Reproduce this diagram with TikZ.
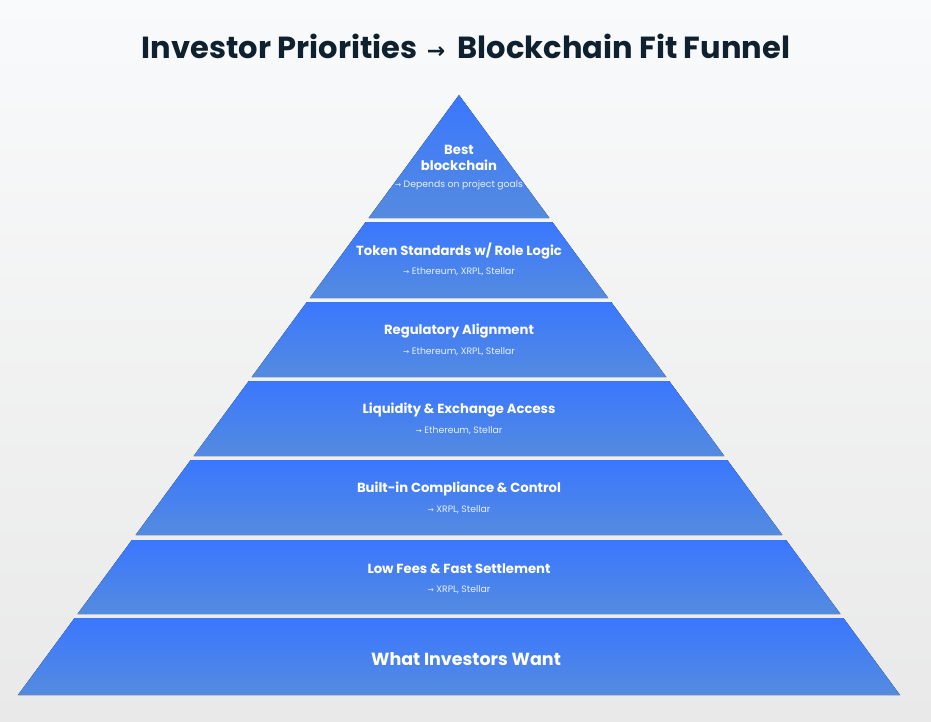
\documentclass[tikz,border=0pt]{standalone}
\usepackage{fontspec}
\setmainfont{Poppins}
\newfontfamily\arrowfont{DejaVu Sans}
\usetikzlibrary{positioning}
\definecolor{tierblue}{HTML}{3A77FF}
\definecolor{tierlow}{HTML}{548BDF}
\definecolor{titlenavy}{HTML}{0F212E}
\definecolor{bgtop}{HTML}{F9FAFB}
\definecolor{bgbottom}{HTML}{E9E9E9}
\tikzstyle{tier} = [top color=tierblue, bottom color=tierlow, draw=none]
\tikzstyle{head} = [text=white, font=\bfseries\fontsize{13.2}{16}\selectfont, align=center, inner sep=0pt]
\tikzstyle{chains} = [text=white!88!tierblue, font=\fontsize{9.3}{11}\selectfont, inner sep=0pt]
\newcommand{\arr}{{\arrowfont\fontsize{7.5}{8}\selectfont →}}

\begin{document}
\begin{tikzpicture}[x=1pt, y=-1pt]
  \useasboundingbox (0,0) rectangle (931,722);
  \shade[top color=bgtop, bottom color=bgbottom] (0,0) rectangle (931,722);

  \node[text=titlenavy, font=\bfseries\fontsize{30.5}{36}\selectfont] (title) at (466,46)
    {Investor Priorities\hspace{3pt} {\arrowfont\fontsize{22}{24}\selectfont →}\hspace{6pt} Blockchain Fit Funnel};

  % top of the pyramid
  \fill[tier] (459,95) -- ({459+123*0.735},218) -- ({459-123*0.735},218) -- cycle;
  \node[head] (best) at (459,158) {Best\\blockchain};
  \node[chains] (goals) at (459,185) {\arr\ Depends on project goals};

  % middle tiers
  \foreach \ya/\yb/\hd/\sb/\nm in {
      222/298/{Token Standards w/ Role Logic}/{Ethereum, XRPL, Stellar}/tokens,
      302/377/{Regulatory Alignment}/{Ethereum, XRPL, Stellar}/regulatory,
      381/456/{Liquidity \& Exchange Access}/{Ethereum, Stellar}/liquidity,
      460/535/{Built-in Compliance \& Control}/{XRPL, Stellar}/compliance,
      540/614/{Low Fees \& Fast Settlement}/{XRPL, Stellar}/fees}
  {
    \pgfmathsetmacro\wa{(\ya-95)*0.735}
    \pgfmathsetmacro\wb{(\yb-95)*0.735}
    \fill[tier] ({459-\wa},\ya) -- ({459+\wa},\ya) -- ({459+\wb},\yb) -- ({459-\wb},\yb) -- cycle;
    \node[head] (\nm) at (459,\ya+29) {\hd};
    \node[chains] (\nm-sub) at (459,\ya+50) {\arr\ \sb};
  }

  % base
  \fill[tier] ({459-523*0.735},618) -- ({459+523*0.735},618) -- ({459+600*0.735},695) -- ({459-600*0.735},695) -- cycle;
  \node[head, font=\bfseries\fontsize{17.5}{20}\selectfont] (want) at (466,659) {What Investors Want};
\end{tikzpicture}
\end{document}
